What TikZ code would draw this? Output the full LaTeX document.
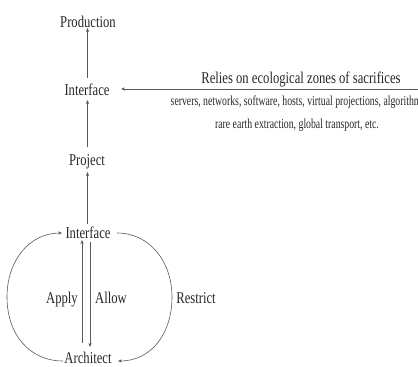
\documentclass[tikz,border=0pt]{standalone}
\usepackage{fontspec}
\setmainfont{Liberation Serif}[FakeStretch=0.77]
\usetikzlibrary{arrows.meta}
\tikzset{
  lbl/.style={inner sep=0pt, anchor=base, text=black!85, font=\fontsize{16.5}{18}\selectfont},
  small/.style={inner sep=0pt, anchor=base, text=black!85, font=\fontsize{13.8}{15}\selectfont},
  conn/.style={draw=black!65, line width=0.6pt, -{Stealth[length=4pt,width=3.2pt]}},
}
\begin{document}
\begin{tikzpicture}[x=1bp,y=-1bp]
\useasboundingbox (0,0) rectangle (418,367);
\clip (0,0) rectangle (418,367);
\node[lbl] (prod) at (88,27) {Production};
\node[lbl] (int1) at (87,95) {Interface};
\node[lbl] (proj) at (87,165) {Project};
\node[lbl] (int2) at (88,238) {Interface};
\node[lbl] (arch) at (88,363.5) {Architect};
\node[lbl] (apply) at (62,303) {Apply};
\node[lbl] (allow) at (111,303) {Allow};
\node[lbl] (restr) at (196,303) {Restrict};
\node[lbl] (relies) at (301,83) {Relies on ecological zones of sacrifices};
\node[small] (serv) at (298,105) {\addfontfeatures{FakeStretch=0.71}servers, networks, software, hosts, virtual projections, algorithms};
\node[small] (rare) at (297,128) {\addfontfeatures{FakeStretch=0.71}rare earth extraction, global transport, etc.};
% coordinates for connector ends
\coordinate (p1) at (87.5,28);
\coordinate (i1t) at (87.5,78);
\coordinate (i1b) at (87.5,100);
\coordinate (pjt) at (87.5,147);
\coordinate (pjb) at (87.5,172);
\coordinate (i2t) at (87.5,224);
\coordinate (i1r) at (121,89);
\coordinate (edge) at (418,89);
\coordinate (ap1) at (82,343);
\coordinate (ap2) at (82,240);
\coordinate (al1) at (90,242);
\coordinate (al2) at (90,347);
\coordinate (aw) at (63,361);
\coordinate (iw) at (62,233);
\coordinate (ie) at (117,233);
\coordinate (ae) at (118,361);
\draw[conn] (i1t) -- (p1);
\draw[conn] (pjt) -- (i1b);
\draw[conn] (i2t) -- (pjb);
\draw[conn] (edge) -- (i1r);
\draw[conn] (ap1) -- (ap2);
\draw[conn] (al1) -- (al2);
\draw[conn] (aw) .. controls (30,361) and (7,335) .. (7,297) .. controls (7,260) and (30,233) .. (iw);
\draw[conn] (ie) .. controls (150,233) and (172,262) .. (172,297) .. controls (172,335) and (150,361) .. (ae);
\end{tikzpicture}
\end{document}
